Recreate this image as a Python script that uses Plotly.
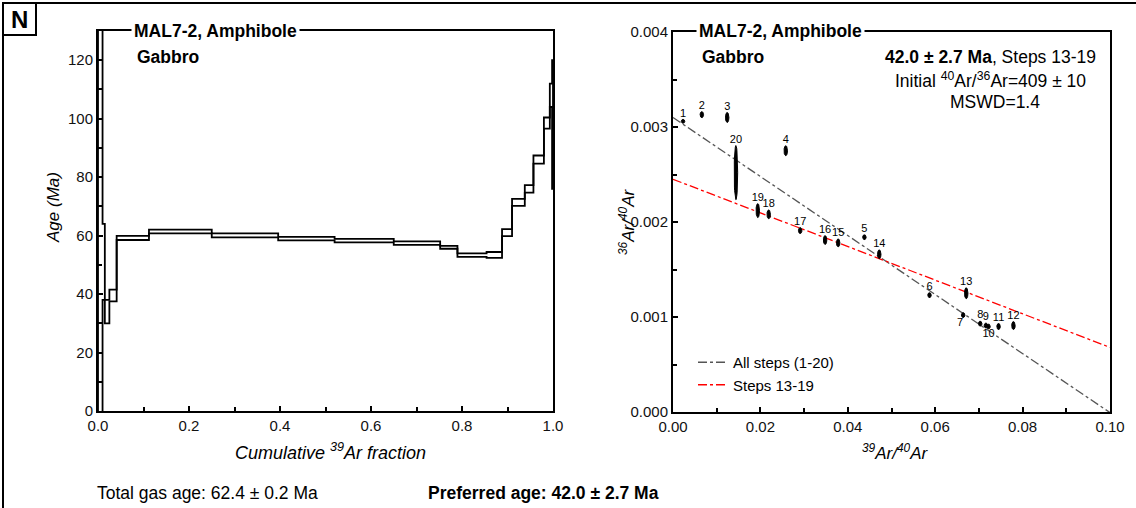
import numpy as np
import plotly.graph_objects as go

W, H = 1136, 508
FONT = "Liberation Sans, Arial, sans-serif"

# ---------------- Age spectrum data ----------------
step_bounds = [0.000, 0.010, 0.015, 0.025, 0.041, 0.112, 0.250, 0.396, 0.520, 0.650,
               0.752, 0.790, 0.854, 0.888, 0.910, 0.938, 0.957, 0.980, 0.993, 0.998, 1.000]
step_age = [60.0, 51.0, 34.0, 39.5, 59.2, 61.4, 60.1, 59.0, 58.3, 57.4,
            56.0, 53.3, 53.4, 61.0, 71.4, 76.0, 86.0, 98.5, 108.0, 98.0]
step_err = [100.0, 13.0, 4.0, 2.0, 0.7, 0.65, 0.7, 0.6, 0.6, 0.6,
            0.5, 0.6, 1.0, 1.2, 1.2, 1.3, 1.4, 1.9, 4.0, 22.0]

# ---------------- Inverse isochron data ----------------
iso_label = [str(i) for i in range(1, 21)]
iso_x = [0.0023, 0.0066, 0.0124, 0.0258, 0.0438, 0.0587, 0.0664, 0.0703, 0.0716, 0.0722,
         0.0745, 0.0779, 0.0671, 0.0472, 0.0378, 0.0348, 0.0291, 0.0219, 0.0194, 0.0144]
iso_y = [0.00306, 0.00313, 0.00310, 0.00275, 0.00184, 0.00123, 0.00102, 0.00093, 0.00091, 0.00090,
         0.00090, 0.00091, 0.00125, 0.00166, 0.00178, 0.00181, 0.00191, 0.00208, 0.00212, 0.00252]
iso_sx = [0.00040] * 20
iso_sy = [0.000021, 0.000032, 0.000053, 0.000053, 0.000026, 0.000026, 0.000026, 0.000026, 0.000026, 0.000026,
          0.000032, 0.000042, 0.000058, 0.000047, 0.000042, 0.000047, 0.000032, 0.000047, 0.000074, 0.000285]

# regression lines: (y-intercept, x-intercept)
all_steps_line = (0.00310, 0.0998)
plateau_line = (0.00245, 0.1384)

fig = go.Figure()

def px(x):
    return x / W

def py(y):
    return 1 - y / H

# ---- spectrum: upper and lower staircases ----
upper = [a + e for a, e in zip(step_age, step_err)]
lower = [a - e for a, e in zip(step_age, step_err)]
for env in (upper, lower):
    fig.add_trace(go.Scatter(x=step_bounds, y=env + [env[-1]], mode="lines",
                             line=dict(color="black", width=1.8, shape="hv"),
                             showlegend=False, hoverinfo="skip", xaxis="x", yaxis="y"))
for xb, lo, up in ((step_bounds[0], lower[0], upper[0]), (step_bounds[-1], lower[-1], upper[-1])):
    fig.add_trace(go.Scatter(x=[xb, xb], y=[lo, up], mode="lines",
                             line=dict(color="black", width=1.8),
                             showlegend=False, hoverinfo="skip", xaxis="x", yaxis="y"))

# ---- isochron regression lines ----
xs = np.array([0.0, 0.1])
for (b, xi), name, col in ((all_steps_line, "All steps (1-20)", "#555555"),
                           (plateau_line, "Steps 13-19", "#ff0000")):
    ys = b - b / xi * xs
    fig.add_trace(go.Scatter(x=xs, y=ys, mode="lines", name=name,
                             line=dict(color=col, width=1.3, dash="dashdot"),
                             xaxis="x2", yaxis="y2", hoverinfo="skip"))

# ---- error ellipses ----
t = np.linspace(0, 2 * np.pi, 40)
ex, ey = [], []
for cx, cy, sx, sy in zip(iso_x, iso_y, iso_sx, iso_sy):
    ex += list(cx + sx * np.cos(t)) + [None]
    ey += list(cy + sy * np.sin(t)) + [None]
fig.add_trace(go.Scatter(x=ex, y=ey, mode="lines", fill="toself", fillcolor="black",
                         line=dict(color="black", width=1), showlegend=False,
                         hoverinfo="skip", xaxis="x2", yaxis="y2"))

# ---- point labels ----
below = {"7": "bottom left", "10": "bottom center"}
lab_y = [y - sy if l in below else y + sy for l, y, sy in zip(iso_label, iso_y, iso_sy)]
lab_pos = [below.get(l, "top center") for l in iso_label]
fig.add_trace(go.Scatter(x=iso_x, y=lab_y, mode="text", text=iso_label,
                         textposition=lab_pos,
                         textfont=dict(size=11, family=FONT, color="black"),
                         showlegend=False, hoverinfo="skip", xaxis="x2", yaxis="y2"))

axis_common = dict(showline=True, mirror=True, linewidth=2, linecolor="black",
                   showgrid=False, zeroline=False, ticks="inside", ticklen=5,
                   tickwidth=1.5, tickcolor="black", automargin=False,
                   tickfont=dict(size=15, family=FONT, color="#111"))

fig.update_layout(
    template="none",
    width=W, height=H, margin=dict(l=0, r=0, t=0, b=0, pad=0, autoexpand=False),
    paper_bgcolor="white", plot_bgcolor="white",
    font=dict(family=FONT, size=16, color="black"),
    xaxis=dict(domain=[px(98), px(553)], range=[0, 1], dtick=0.2, tickformat=".1f",
               minor=dict(ticks="inside", dtick=0.1, ticklen=4, tickcolor="black", showgrid=False),
               anchor="y", **axis_common),
    yaxis=dict(domain=[py(411), py(31)], range=[0, 130], dtick=20,
               minor=dict(ticks="inside", dtick=10, ticklen=4, tickcolor="black", showgrid=False),
               anchor="x", **axis_common),
    xaxis2=dict(domain=[px(673), px(1110)], range=[0, 0.1], dtick=0.02, tickformat=".2f",
                minor=dict(ticks="inside", dtick=0.01, ticklen=4, tickcolor="black", showgrid=False),
                anchor="y2", **axis_common),
    yaxis2=dict(domain=[py(412), py(32)], range=[0, 0.004], dtick=0.001, tickformat=".3f",
                minor=dict(ticks="inside", dtick=0.0005, ticklen=4, tickcolor="black", showgrid=False),
                anchor="x2", **axis_common),
    legend=dict(x=px(693), y=py(346), xanchor="left", yanchor="top",
                bgcolor="rgba(0,0,0,0)", font=dict(size=15, family=FONT),
                traceorder="normal", itemwidth=30),
)

def ann(text, x, y, size=16, xanchor="left", bg=None, angle=0, **kw):
    d = dict(text=text, x=px(x), y=py(y), xref="paper", yref="paper",
             xanchor=xanchor, yanchor="middle", showarrow=False,
             font=dict(size=size, family=FONT, color="black"), textangle=angle)
    if bg:
        d.update(bgcolor=bg, borderpad=2)
    d.update(kw)
    fig.add_annotation(**d)

# panel titles
ann("<b>MAL7-2, Amphibole</b>", 131, 31, size=17.5, bg="white")
ann("<b>Gabbro</b>", 135, 57, size=17.5)
ann("<b>MAL7-2, Amphibole</b>", 696, 31, size=17.5, bg="white")
ann("<b>Gabbro</b>", 700, 57, size=17.5)
# isochron result
ann("<b>42.0 ± 2.7 Ma</b>, Steps 13-19", 990, 57, size=17.5, xanchor="center")
ann("Initial <sup>40</sup>Ar/<sup>36</sup>Ar=409 ± 10", 990, 80, size=17.5, xanchor="center")
ann("MSWD=1.4", 995, 102, size=17.5, xanchor="center")
# axis titles
ann("<i>Cumulative <sup>39</sup>Ar fraction</i>", 330, 451, size=18, xanchor="center")
ann("<i><sup>39</sup>Ar/<sup>40</sup>Ar</i>", 895, 452, size=17, xanchor="center")
ann("<i>Age (Ma)</i>", 54, 208, size=17, xanchor="center", angle=-90)
ann("<i><sup>36</sup>Ar/<sup>40</sup>Ar</i>", 627, 222, size=17, xanchor="center", angle=-90)
# bottom text
ann("Total gas age: 62.4 ± 0.2 Ma", 95, 493, size=17.5)
ann("<b>Preferred age: 42.0 ± 2.7 Ma</b>", 426, 493, size=17.5)
# panel letter
ann("<b>N</b>", 19, 19, size=24, xanchor="center")

# frame lines
fig.add_shape(type="line", xref="paper", yref="paper", x0=px(3), y0=py(508), x1=px(3), y1=py(3),
              line=dict(color="black", width=2))
fig.add_shape(type="line", xref="paper", yref="paper", x0=px(3), y0=py(3), x1=px(1136), y1=py(3),
              line=dict(color="black", width=2))
fig.add_shape(type="rect", xref="paper", yref="paper", x0=px(3), y0=py(35), x1=px(36), y1=py(3),
              line=dict(color="black", width=2))

fig.write_html("out.html")
